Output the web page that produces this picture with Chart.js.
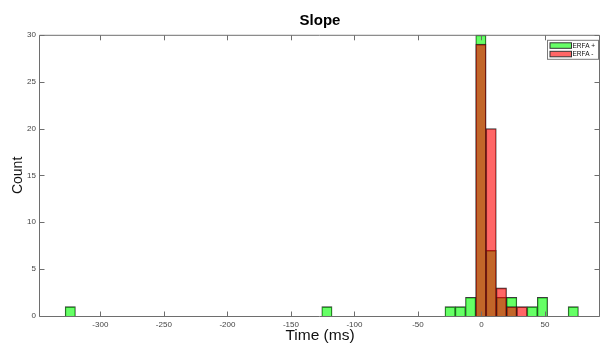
<!DOCTYPE html>
<html>
<head>
<meta charset="utf-8">
<title>Slope</title>
<script src="https://cdn.jsdelivr.net/npm/chart.js@4.4.1/dist/chart.umd.min.js"></script>
<style>
    html, body { margin: 0; padding: 0; background: #ffffff; }
    canvas { display: block; }
</style>
</head>
<body>
<canvas id="histSlope" width="601" height="345"></canvas>
<script>
// Data histogram (pusat bin, dalam ms)
const binCenters = [-323.66, -121.66, -24.70, -16.62, -8.54, -0.46, 7.62, 15.70, 23.78, 31.86, 39.94, 48.02, 72.26];
const countPlus = [1, 1, 1, 1, 2, 30, 7, 2, 2, 0, 1, 2, 1];
const countMinus = [0, 0, 0, 0, 0, 29, 20, 3, 1, 1, 0, 0, 0];
const seriesLabels = ['ERFA +', 'ERFA -'];

// Label sumbu
const xTicks = [-300, -250, -200, -150, -100, -50, 0, 50];
const yTicks = [0, 5, 10, 15, 20, 25, 30];

//START JS Kotak axes, tick ke dalam dan legend
const axesBoxPlugin = {
    id: 'axesBox',
    afterDatasetsDraw(chart) {
        const ctx = chart.ctx;
        const a = chart.chartArea;
        const xs = chart.scales.x;
        const ys = chart.scales.y;
        const tick = 5;

        ctx.save();
        ctx.strokeStyle = '#6e6e6e';
        ctx.lineWidth = 1;

        // garis kotak
        ctx.beginPath();
        ctx.rect(a.left - 0.5, a.top + 0.5, a.right - a.left, a.bottom - a.top);
        ctx.stroke();

        // tick sumbu x (atas dan bawah)
        ctx.beginPath();
        xs.ticks.forEach(function (t) {
            const px = Math.round(xs.getPixelForValue(t.value)) + 0.5;
            ctx.moveTo(px, a.bottom + 0.5);
            ctx.lineTo(px, a.bottom + 0.5 - tick);
            ctx.moveTo(px, a.top + 0.5);
            ctx.lineTo(px, a.top + 0.5 + tick);
        });
        // tick sumbu y (kiri dan kanan)
        ys.ticks.forEach(function (t) {
            const py = Math.round(ys.getPixelForValue(t.value)) + 0.5;
            ctx.moveTo(a.left - 0.5, py);
            ctx.lineTo(a.left - 0.5 + tick, py);
            ctx.moveTo(a.right - 0.5, py);
            ctx.lineTo(a.right - 0.5 - tick, py);
        });
        ctx.stroke();

        // legend di pojok kanan atas
        const boxW = 51;
        const boxH = 19;
        const x0 = a.right - boxW - 1.5;
        const y0 = a.top + 5.5;
        ctx.fillStyle = '#ffffff';
        ctx.fillRect(x0, y0, boxW, boxH);
        ctx.strokeStyle = '#7a7a7a';
        ctx.strokeRect(x0, y0, boxW, boxH);

        ctx.font = '6.5px "Liberation Sans", Arial, sans-serif';
        ctx.textBaseline = 'middle';
        ctx.textAlign = 'left';
        chart.data.datasets.forEach(function (ds, i) {
            const sy = y0 + 2.5 + i * 8.5;
            ctx.fillStyle = ds.backgroundColor;
            ctx.fillRect(x0 + 2.5, sy, 21.5, 5.5);
            ctx.strokeStyle = '#333333';
            ctx.strokeRect(x0 + 2.5, sy, 21.5, 5.5);
            ctx.fillStyle = '#111111';
            ctx.fillText(ds.label, x0 + 25, sy + 3);
        });
        ctx.restore();
    }
};
//END JS Kotak axes

//START JS Histogram Slope
document.addEventListener('DOMContentLoaded', function () {
    const ctx = document.getElementById('histSlope').getContext('2d');

    const dataPlus = binCenters.map(function (x, i) { return { x: x, y: countPlus[i] }; });
    const dataMinus = binCenters.map(function (x, i) { return { x: x, y: countMinus[i] }; });

    const tickFont = { family: '"Liberation Sans", Arial, sans-serif', size: 8 };

    const config = {
        type: 'bar',
        data: {
            datasets: [
                {
                    label: seriesLabels[0],
                    data: dataPlus,
                    backgroundColor: 'rgba(0,255,0,0.6)',
                    borderColor: 'rgba(25,25,25,0.85)',
                    borderWidth: { top: 1, left: 0.7, right: 0.7, bottom: 0 },
                    borderSkipped: false,
                    order: 2,
                },
                {
                    label: seriesLabels[1],
                    data: dataMinus,
                    backgroundColor: 'rgba(255,0,0,0.6)',
                    borderColor: 'rgba(25,25,25,0.85)',
                    borderWidth: { top: 1, left: 0.7, right: 0.7, bottom: 0 },
                    borderSkipped: false,
                    order: 1,
                },
            ],
        },
        options: {
            responsive: false,
            animation: false,
            layout: { padding: { left: 0, right: 1, top: 0, bottom: 0 } },
            datasets: {
                bar: {
                    grouped: false,
                    barPercentage: 1,
                    categoryPercentage: 1,
                },
            },
            scales: {
                x: {
                    type: 'linear',
                    offset: false,
                    min: -347.5,
                    max: 93.3,
                    afterBuildTicks: function (scale) {
                        scale.ticks = xTicks.map(function (v) { return { value: v }; });
                    },
                    afterFit: function (scale) { scale.height = 29; },
                    grid: { display: false, drawTicks: false, offset: false },
                    border: { display: false },
                    ticks: { font: tickFont, color: '#444444', padding: 3.5, maxRotation: 0 },
                    title: {
                        display: true,
                        text: 'Time (ms)',
                        font: { family: '"Liberation Sans", Arial, sans-serif', size: 15.5 },
                        color: '#111111',
                        padding: { top: 0, bottom: 0 },
                    },
                },
                y: {
                    min: 0,
                    max: 30,
                    afterBuildTicks: function (scale) {
                        scale.ticks = yTicks.map(function (v) { return { value: v }; });
                    },
                    afterFit: function (scale) { scale.width = 40; },
                    grid: { display: false, drawTicks: false },
                    border: { display: false },
                    ticks: { font: tickFont, color: '#444444', padding: 4 },
                    title: {
                        display: true,
                        text: 'Count',
                        font: { family: '"Liberation Sans", Arial, sans-serif', size: 14 },
                        color: '#111111',
                        padding: { top: 10, bottom: 0 },
                    },
                },
            },
            plugins: {
                legend: { display: false },
                tooltip: { enabled: false },
                title: {
                    display: true,
                    text: 'Slope',
                    fullSize: false,
                    color: '#000000',
                    font: { family: '"Liberation Sans", Arial, sans-serif', size: 15, weight: 'bold' },
                    padding: { top: 12, bottom: 4.8 },
                },
            },
        },
        plugins: [axesBoxPlugin],
    };

    new Chart(ctx, config);
});
//END JS Histogram Slope
</script>
</body>
</html>
